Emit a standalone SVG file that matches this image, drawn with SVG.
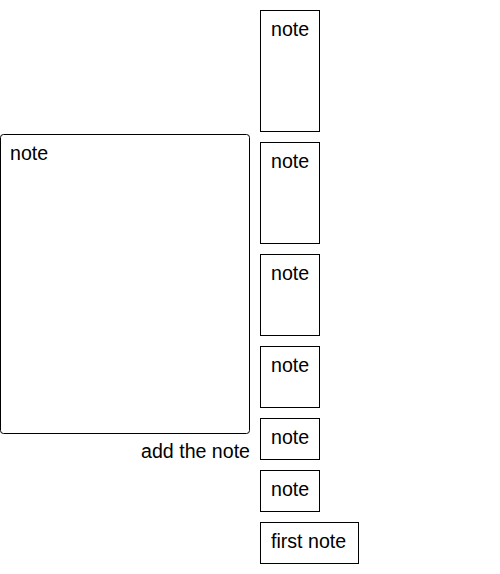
<svg xmlns="http://www.w3.org/2000/svg" width="500" height="574" viewBox="0 0 500 574">
<style>
.box{fill:#fff;stroke:#000;stroke-width:1}
text{font-family:"Liberation Sans",Arial,sans-serif;font-size:19.6px;fill:#000}
</style>
<rect width="500" height="574" fill="#fff"/>
<g id="connectors"></g>
<g id="big-note"><rect class="box" x="0.5" y="134.5" width="249" height="299" rx="3"/><text x="10" y="160">note</text></g>
<g id="add-label"><text x="250" y="458" text-anchor="end">add the note</text></g>
<g id="note1"><rect class="box" x="260.5" y="10.5" width="59" height="121"/><text x="271" y="36">note</text></g>
<g id="note2"><rect class="box" x="260.5" y="142.5" width="59" height="101"/><text x="271" y="168">note</text></g>
<g id="note3"><rect class="box" x="260.5" y="254.5" width="59" height="81"/><text x="271" y="280">note</text></g>
<g id="note4"><rect class="box" x="260.5" y="346.5" width="59" height="61"/><text x="271" y="372">note</text></g>
<g id="note5"><rect class="box" x="260.5" y="418.5" width="59" height="41"/><text x="271" y="444">note</text></g>
<g id="note6"><rect class="box" x="260.5" y="470.5" width="59" height="41"/><text x="271" y="496">note</text></g>
<g id="note7"><rect class="box" x="260.5" y="522.5" width="98" height="41"/><text x="271" y="548">first note</text></g>
</svg>
